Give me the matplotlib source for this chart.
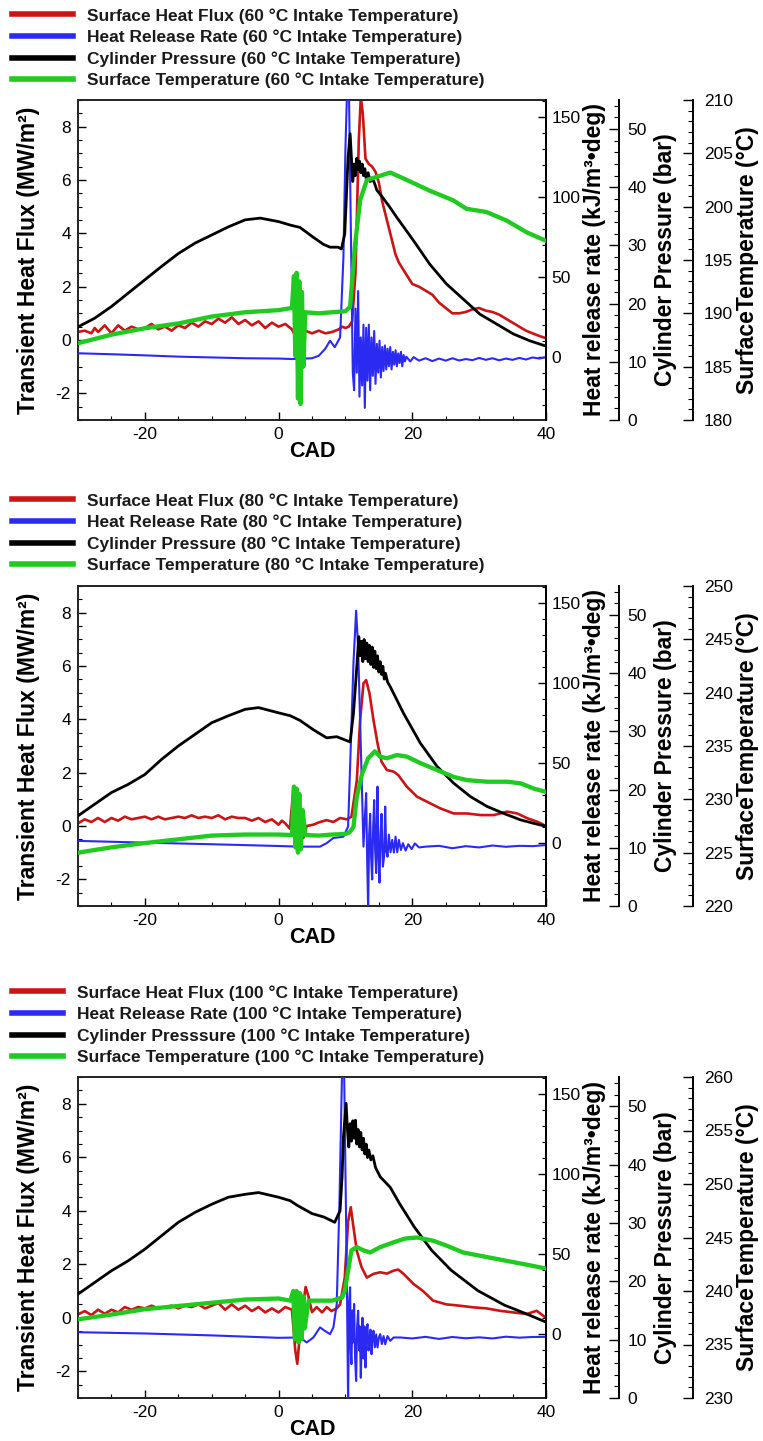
import matplotlib
matplotlib.use("Agg")
import matplotlib.pyplot as plt
from matplotlib.ticker import MultipleLocator, FixedLocator

plt.rcParams['font.family'] = ['Liberation Sans', 'DejaVu Sans']
plt.rcParams['axes.unicode_minus'] = False

# ---------------- Panel 1 : 60 C intake ----------------
p1_hf_cad = [-30, -29, -28, -27.5, -27, -26, -25, -24, -23, -22, -21, -20, -19, -18, -17, -16, -15, -14, -13, -12,
             -11, -10, -9, -8, -7, -6, -5, -4, -3, -2, -1, 0, 1, 2, 2.6, 3.0, 3.5, 4, 5, 6, 7, 8, 9,
             9.5, 10, 10.5, 11, 11.5, 12, 12.3, 12.6, 13, 13.5, 14, 14.5, 15, 15.5, 16, 16.5, 17, 17.5, 18,
             19, 20, 21, 22, 23, 24, 25, 26, 27, 28, 29, 30, 31, 32, 33, 34, 35, 36, 37, 38, 39, 40]
p1_hf = [0.3, 0.35, 0.25, 0.45, 0.3, 0.55, 0.25, 0.55, 0.35, 0.5, 0.4, 0.45, 0.6, 0.4, 0.5, 0.35, 0.55, 0.45, 0.65, 0.5,
         0.7, 0.6, 0.8, 0.65, 0.85, 0.6, 0.75, 0.55, 0.7, 0.45, 0.65, 0.5, 0.6, 0.4, 0.1, -0.2, 0.3, 0.35, 0.25, 0.35, 0.25, 0.3, 0.4,
         0.5, 0.45, 0.5, 0.7, 2.5, 7.5, 9.1, 8.5, 6.8, 6.6, 6.5, 6.3, 5.9, 5.2, 4.7, 4.2, 3.7, 3.2, 2.9,
         2.5, 2.1, 2.0, 1.85, 1.7, 1.4, 1.2, 1.0, 1.0, 1.05, 1.15, 1.2, 1.1, 1.05, 0.95, 0.8, 0.65, 0.5, 0.35, 0.25, 0.15, 0.07]

p1_hrr_cad = [-30, -25, -20, -15, -10, -5, 0, 2, 4, 5, 6, 7, 7.7, 8.4, 9.2, 9.7, 10.0, 10.3, 10.5, 10.8, 11.1,
              11.3, 11.5, 11.7, 11.9, 12.1, 12.3, 12.5, 12.7, 12.9, 13.1, 13.3, 13.5, 13.7, 13.9, 14.1, 14.3,
              14.5, 14.7, 14.9, 15.1, 15.3, 15.5, 15.7, 15.9, 16.1, 16.3, 16.5, 16.7, 16.9, 17.1, 17.3, 17.5,
              17.7, 17.9, 18.1, 18.3, 18.5, 18.7, 18.9, 19.1,
              19.7, 20.2, 21, 22, 23, 24, 25, 26, 27, 28, 29, 30, 31, 32, 33, 34, 35, 36, 37, 38, 39, 40]
p1_hrr = [2.1, 1.5, 0.8, 0, -0.5, -1.0, -1.2, -1.5, -1.2, -1.0, 0.5, 5, 10, 5.9, 12, 62, 130, 175, 175, 83, -10,
          -21, 30, -10, 41, -25, 12, -18, 20, -32, 18, -15, 20, -21, 12, -12, 16,
          -17, 8, -10, 10, -13, 6, -9, 7, -8, 5, -6, 6, -8, 3, -5, 4,
          -6, 2, -4, 3, -6, 1, -3, 0,
          -3, -0.3, -2.5, -1, -2.8, -1.2, -2.5, -1, -2.4, -1.5, -2.2, -0.8, -2, -1, -2.3, -1.2, -2, -0.8, -1.8, -0.5, -1.2, -0.3]

p1_p_cad = [-30, -27.5, -25, -22.5, -20, -17.5, -15, -12.5, -10, -7.5, -5, -2.75, 0, 1.75, 3.2, 5.2, 6.7, 7.7,
            8.9, 9.4, 9.9, 10.4, 10.7, 10.9, 11.1, 11.3, 11.5, 11.7, 11.9, 12.1, 12.3, 12.5, 12.7, 12.9, 13.1,
            13.4, 13.7, 14.2, 14.7, 15.2, 16.5, 17.7, 20.2, 22.6, 25.1, 27.6, 30.1, 32.6, 35.1, 37.6, 40]
p1_p = [16.0, 17.5, 19.5, 21.8, 24.1, 26.4, 28.6, 30.4, 31.8, 33.2, 34.4, 34.7, 34.1, 33.5, 33.1, 31.4, 30.2, 29.7,
        29.7, 29.4, 32.0, 45.2, 49.2, 45, 41, 44, 42, 45, 43, 44.5, 42.5, 44, 42, 43.2, 41.5,
        42.5, 41, 41.2, 39.5, 38.8, 36.8, 34.8, 30.8, 26.8, 23.4, 20.8, 18.2, 16.5, 14.8, 13.6, 12.7]

p1_t_cad = [-30, -25, -20, -15, -10, -5, 0, 2, 2.3, 2.5, 2.7, 2.9, 3.1, 3.3, 3.5, 3.7, 4, 6, 8, 10,
            10.7, 11.4, 12.2, 13.2, 15.2, 16.7, 19.2, 22.6, 26.1, 28.1, 31.1, 34.1, 37.1, 40]
p1_t = [187.2, 188.0, 188.6, 189.05, 189.7, 190.1, 190.3, 190.5, 193.5, 186, 193.8, 182, 193, 181.5, 192, 185,
        190.1, 190.0, 190.1, 190.2,
        190.6, 196.2, 200.6, 202.5, 202.9, 203.2, 202.5, 201.5, 200.6, 199.8, 199.5, 198.7, 197.6, 196.8]

# ---------------- Panel 2 : 80 C intake ----------------
p2_hf_cad = [-30, -29, -28, -27, -26, -25, -24, -23, -22, -21, -20, -19, -18, -17, -16, -15, -14, -13, -12, -11,
             -10, -9, -8, -7, -6, -5, -4, -3, -2, -1, 0, 0.5, 1, 1.7, 2.2, 2.5, 3.0, 3.7, 4.2,
             5.2, 6.2, 7.2, 8.2, 9.2, 10.2, 10.9, 11.7, 12.2, 12.7, 13.1, 13.6, 14.2, 14.8, 15.4, 16.2, 17.2, 17.9,
             19.2, 20.7, 22.2, 24.2, 26.2, 28.2, 30.2, 32.2, 34.2, 35.7, 37.2, 38.7, 40]
p2_hf = [0.1, 0.25, 0.15, 0.3, 0.15, 0.3, 0.2, 0.35, 0.25, 0.3, 0.35, 0.25, 0.35, 0.25, 0.3, 0.35, 0.3, 0.4, 0.3, 0.35,
         0.3, 0.4, 0.25, 0.35, 0.3, 0.3, 0.2, 0.3, 0.15, 0.25, 0.05, 0.2, 0.1, -0.1, 1.35, 0.97, 0.3, -0.45, 0.0,
         0.05, 0.15, 0.22, 0.15, 0.3, 0.25, 0.35, 1.7, 3.97, 5.35, 5.47, 4.97, 3.97, 3.1, 2.41, 2.1, 2.04, 1.91,
         1.47, 1.1, 0.91, 0.66, 0.47, 0.47, 0.41, 0.41, 0.54, 0.47, 0.29, 0.16, 0.0]

p2_hrr_cad = [-30, -20, -10, 0, 3, 6.2, 7.2, 8.2, 9.7, 10.4, 10.8, 11.2, 11.6, 11.9, 12.3, 12.7, 12.9, 13.1,
              13.25, 13.4, 13.55, 13.7, 13.85, 14.0, 14.15, 14.3, 14.45, 14.6, 14.7, 14.8, 14.95, 15.1, 15.25,
              15.4, 15.6, 15.8, 15.95, 16.1, 16.3, 16.5, 16.75, 17.0, 17.25, 17.5, 17.75, 18.0, 18.3, 18.6,
              19.0, 19.4, 19.9, 20.4, 21, 22, 24, 26, 28, 30, 32, 34, 36, 38, 40]
p2_hrr = [1.1, 0, -1.0, -2.1, -2.5, -2.5, -0.3, 2.9, 3.7, 10, 60, 112, 145, 122, 60, -2.5, 15, 31,
          -10, -42, 5, 18, -10, -23, 10, 26.6, -5, -19, 15, 35, -10, -25, 5,
          18, -15, -8, 22.5, -5, -8.8, 5, -6, 1.7, -6.2, 3.7, -6, 1.7, -4.6, -0.3,
          -5, -1, -4, -0.5, -3, -2.5, -2.0, -3.5, -2.2, -3.0, -1.8, -2.6, -2.0, -2.2, -1.5]

p2_p_cad = [-30, -27.5, -25, -22.5, -20, -17.5, -15, -12.5, -10, -7.5, -5, -3, 0, 1.75, 3.2, 5.2, 7.2, 8.7, 10.7,
            11.2, 11.7, 12.0, 12.2, 12.4, 12.6, 12.8, 13.0, 13.2, 13.4, 13.6, 13.8, 14.0, 14.2, 14.4, 14.6,
            14.8, 15.0, 15.2, 15.4, 15.6, 15.8, 16.0, 16.3, 16.7,
            18.7, 21.2, 23.7, 26.2, 28.7, 31.2, 33.7, 36.2, 38.2, 40]
p2_p = [15.5, 17.5, 19.5, 20.9, 22.6, 25.2, 27.5, 29.5, 31.5, 32.7, 33.8, 34.1, 33.2, 32.7, 31.9, 30.3, 28.9, 29.1, 28.2,
        33.1, 41.1, 46.3, 43, 45.5, 42, 45.8, 42.5, 45.2, 42, 44.8, 41.5, 44.5, 41, 43.8, 40.8,
        43, 40.2, 42, 39.8, 41.2, 39, 40, 38.5, 37.7,
        33.1, 28.0, 24.0, 21.1, 18.8, 17.1, 15.9, 14.8, 14.2, 13.7]

p2_t_cad = [-30, -25, -20, -15, -10, -5, 0, 2, 2.3, 2.5, 2.7, 2.9, 3.1, 3.3, 3.6, 4, 6, 8, 10, 10.6,
            11.2, 11.7, 12.5, 13.4, 14.4, 15.2, 16.2, 17.7, 19.2, 21.2, 23.7, 26.2, 28.2, 31.2, 34.2, 36.2, 38.2, 40]
p2_t = [225.0, 225.5, 225.9, 226.25, 226.6, 226.7, 226.7, 226.65, 231.2, 225.5, 231, 225.0, 230.5, 225.3, 229,
        226.65, 226.6, 226.7, 226.75, 226.9,
        227.4, 230.25, 232.4, 233.85, 234.5, 234.0, 233.85, 234.15, 234.0, 233.4, 232.75, 232.1, 231.8, 231.65,
        231.65, 231.5, 231.0, 230.7]

# ---------------- Panel 3 : 100 C intake ----------------
p3_hf_cad = [-30, -29, -28, -27, -26, -25, -24, -23, -22, -21, -20, -19, -18, -17, -16, -15, -14, -13, -12, -11,
             -10, -9, -8, -7, -6, -5, -4, -3, -2, -1, 0,
             1, 2, 2.5, 2.8, 3.2, 3.55, 4.05, 4.5, 5, 5.7, 6.5, 7.2, 7.9, 8.7,
             9.2, 9.9, 10.4, 10.8, 11.2, 11.7, 12.4, 13.2, 14.2, 15.2, 16.2, 17.2, 17.9, 18.7,
             20.2, 21.6, 23.1, 25.1, 27.1, 29.1, 31.1, 33.1, 35.1, 37.1, 38.6, 40]
p3_hf = [0.125, 0.25, 0.1, 0.3, 0.15, 0.3, 0.2, 0.4, 0.3, 0.4, 0.35, 0.45, 0.35, 0.4, 0.45, 0.35, 0.45, 0.4, 0.5, 0.35,
         0.45, 0.55, 0.3, 0.5, 0.3, 0.45, 0.25, 0.4, 0.2, 0.35, 0.2,
         0.4, 0.3, -1.22, -1.72, -0.6, 0.27, 1.15, 0.77, 0.21, 0.4, 0.2, 0.4, 0.25, 0.35,
         0.5, 1.5, 3.6, 4.13, 3.39, 2.5, 1.9, 1.5, 1.64, 1.7, 1.65, 1.76, 1.8, 1.64,
         1.26, 1.0, 0.64, 0.5, 0.45, 0.39, 0.35, 0.26, 0.2, 0.14, 0.26, 0.0]

p3_hrr_cad = [-30, -20, -10, 0, 3.2, 4.2, 5.2, 6.2, 6.9, 7.7, 8.2, 8.7, 9.1, 9.5, 9.8, 10.2, 10.4,
              10.55, 10.7, 10.8, 10.9, 11.05, 11.15, 11.3, 11.45, 11.6, 11.75, 11.9, 12.05, 12.15, 12.3, 12.45,
              12.55, 12.7, 12.85, 13.0, 13.15, 13.3, 13.45, 13.6, 13.75, 13.9, 14.05, 14.2, 14.4, 14.6, 14.8,
              15.0, 15.2, 15.45, 15.7, 15.95, 16.3, 16.7, 17.2,
              18.2, 20, 22, 24, 26, 28, 30, 32, 34, 36, 38, 40]
p3_hrr = [1.4, 0.6, -0.6, -2.1, -1.9, -5, -1.9, 4.4, 2.3, 0.2, 4.4, 19, 81.5, 165, 165, 39.8, -42,
          20, 29.4, -10, -18.5, 15, -5, 19, -15, -29, 5, 14.8, -10, 5, -27, 0,
          10.4, -15, 5, -20.6, 2, 6.4, -10, -4, 3, -12.3, -2, 2.3, -8, 0, -8.1,
          -2, 0.2, -6, -1, -6.1, -1, -4, -1.9,
          -1.9, -2.5, -1.5, -2.8, -1.6, -2.4, -1.8, -2.5, -1.4, -2.0, -1.6, -1.5]

p3_p_cad = [-30, -27.5, -25, -22.5, -20, -17.5, -15, -12.5, -10, -7.5, -5, -3, 0, 1.75, 2.8, 5, 6.8, 8.4, 9.2,
            9.5, 9.7, 10.1, 10.3, 10.5, 10.7, 10.9, 11.1, 11.3, 11.5, 11.7, 11.9, 12.1, 12.3, 12.5, 12.7, 12.9,
            13.1, 13.3, 13.5, 13.8, 14.1, 14.5,
            15.2, 16.7, 18.1, 20.3, 22.9, 25.8, 29.8, 33.8, 37.1, 40]
p3_p = [17.8, 19.8, 21.8, 23.5, 25.5, 27.8, 30.1, 31.8, 33.2, 34.4, 34.9, 35.2, 34.4, 33.8, 33.0, 31.6, 31.0, 30.1, 32.1,
        38, 44.7, 50.5, 46, 43, 47, 44, 47.5, 44.5, 47.6, 43.5, 46, 43, 45.5, 42.5, 44.5, 41.8,
        43.5, 41.2, 42.5, 40.8, 41.5, 39.5,
        37.9, 36.1, 33.3, 29.3, 25.3, 21.9, 18.4, 15.9, 14.4, 13.0]

p3_t_cad = [-30, -25, -20, -15, -10, -5, 0, 1.75, 2.2, 2.45, 2.7, 2.95, 3.2, 3.45, 3.7, 3.9,
            4.5, 6, 8, 9.5, 9.9, 10.4, 10.9,
            11.7, 12.7, 13.7, 15.2, 17.2, 18.9, 20.7, 23.1, 25.1, 27.6, 30.1, 32.6, 35.1, 37.6, 40]
p3_t = [237.35, 237.8, 238.3, 238.6, 238.9, 239.2, 239.3, 239.1, 240, 235.5, 240, 235.2, 239.8, 235.5, 239.5, 236.5,
        239.1, 239.1, 239.1, 239.4, 240, 241.9, 243.8,
        244.1, 243.8, 243.6, 244.1, 244.55, 244.9, 245.0, 244.7, 244.25, 243.6, 243.3, 243.0, 242.7, 242.4, 242.1]

intake_temps = ['60', '80', '100']
temp_limits = [(180, 210), (220, 250), (230, 260)]
pressure_names = ['Cylinder Pressure', 'Cylinder Pressure', 'Cylinder Presssure']

x_ticks = [-20, 0, 20, 40]
hf_ticks = [-2, 0, 2, 4, 6, 8]
hrr_ticks = [0, 50, 100, 150]
p_ticks = [0, 10, 20, 30, 40, 50]

W, H = 763, 1441
fig = plt.figure(figsize=(W / 100, H / 100), dpi=100)

# pixel layout: (axes top, axes bottom, legend top, handle start px, handle end px)
layout = [(100, 420, 8, 12, 73), (586, 906, 493, 12, 73), (1077, 1398, 985, 12, 63)]

series = [
    ((p1_hf_cad, p1_hf), (p1_hrr_cad, p1_hrr), (p1_p_cad, p1_p), (p1_t_cad, p1_t)),
    ((p2_hf_cad, p2_hf), (p2_hrr_cad, p2_hrr), (p2_p_cad, p2_p), (p2_t_cad, p2_t)),
    ((p3_hf_cad, p3_hf), (p3_hrr_cad, p3_hrr), (p3_p_cad, p3_p), (p3_t_cad, p3_t)),
]

RED, BLUE, BLACK, GREEN = '#cc1414', '#2a2af2', '#000000', '#1ecb1e'
left_px, right_px = 78, 546
tick_fs = 12.5
lab_fs = 16.5

def style_ticks(a, side, major=6, minor=3):
    a.tick_params(axis='y', which='major', direction='in', length=major, width=1.0,
                  labelsize=tick_fs, pad=5, left=(side == 'left'), right=(side == 'right'),
                  labelleft=(side == 'left'), labelright=(side == 'right'))
    a.tick_params(axis='y', which='minor', direction='in', length=minor, width=0.8,
                  left=(side == 'left'), right=(side == 'right'))

for i in range(3):
    top, bot, leg_top, hx0, hx1 = layout[i]
    (hc, hv), (rc, rv), (pc, pv), (tc, tv) = series[i]
    rect = [left_px / W, 1 - bot / H, (right_px - left_px) / W, (bot - top) / H]
    ax = fig.add_axes(rect)
    ax2 = ax.twinx()
    ax3 = ax.twinx()
    ax4 = ax.twinx()

    l1, = ax.plot(hc, hv, color=RED, lw=1.9)
    l2, = ax2.plot(rc, rv, color=BLUE, lw=1.5)
    l3, = ax3.plot(pc, pv, color=BLACK, lw=2.0)
    l4, = ax4.plot(tc, tv, color=GREEN, lw=3.1)

    ax.set_xlim(-30, 40)
    ax.set_ylim(-3, 9)
    ax.xaxis.set_major_locator(FixedLocator(x_ticks))
    ax.xaxis.set_minor_locator(MultipleLocator(5))
    ax.yaxis.set_major_locator(FixedLocator(hf_ticks))
    ax.yaxis.set_minor_locator(MultipleLocator(0.5))
    ax.tick_params(axis='x', which='major', direction='in', length=6, width=1.0, labelsize=tick_fs,
                   top=False, pad=5)
    ax.tick_params(axis='x', which='minor', direction='in', length=3, width=0.8, top=False)
    style_ticks(ax, 'left')
    for s in ax.spines.values():
        s.set_linewidth(1.4)
        s.set_color('#222222')

    ax2.set_ylim(-39.6, 160.4)
    ax2.yaxis.set_major_locator(FixedLocator(hrr_ticks))
    ax2.yaxis.set_minor_locator(MultipleLocator(10))
    style_ticks(ax2, 'right')
    ax2.tick_params(axis='y', pad=4)
    for s in ['left', 'top', 'bottom']:
        ax2.spines[s].set_visible(False)
    ax2.spines['right'].set_linewidth(1.4)

    ax3.set_ylim(0, 55)
    ax3.yaxis.set_major_locator(FixedLocator(p_ticks))
    ax3.yaxis.set_minor_locator(MultipleLocator(2))
    style_ticks(ax3, 'right', major=7, minor=3.5)
    ax3.tick_params(axis='y', pad=6)
    for s in ['left', 'top', 'bottom']:
        ax3.spines[s].set_visible(False)
    ax3.spines['right'].set_position(('axes', (619 - left_px) / (right_px - left_px)))
    ax3.spines['right'].set_linewidth(1.4)

    t0, t1 = temp_limits[i]
    ax4.set_ylim(t0, t1)
    ax4.yaxis.set_major_locator(MultipleLocator(5))
    ax4.yaxis.set_minor_locator(MultipleLocator(1))
    style_ticks(ax4, 'right', major=7, minor=3.5)
    ax4.tick_params(axis='y', pad=8)
    for s in ['left', 'top', 'bottom']:
        ax4.spines[s].set_visible(False)
    ax4.spines['right'].set_position(('axes', (693 - left_px) / (right_px - left_px)))
    ax4.spines['right'].set_linewidth(1.4)

    wpx = right_px - left_px
    hpx = bot - top
    ax.set_xlabel('CAD', fontsize=15.5, fontweight='bold')
    ax.xaxis.set_label_coords(0.5, -(441 - 420) / hpx)
    ax.set_ylabel('Transient Heat Flux (MW/m²)', fontsize=lab_fs, fontweight='bold')
    ax.yaxis.set_label_coords((40 - left_px) / wpx, 0.5)
    ax2.set_ylabel('Heat release rate (kJ/m³•deg)', fontsize=lab_fs, fontweight='bold')
    ax2.yaxis.set_label_coords((583 - left_px) / wpx, 0.5)
    ax3.set_ylabel('Cylinder Pressure (bar)', fontsize=lab_fs, fontweight='bold')
    ax3.yaxis.set_label_coords((654 - left_px) / wpx, 0.5)
    ax4.set_ylabel('SurfaceTemperature (°C)', fontsize=lab_fs, fontweight='bold')
    ax4.yaxis.set_label_coords((736 - left_px) / wpx, 0.5)

    tt = intake_temps[i]
    labels = [f'Surface Heat Flux ({tt} °C Intake Temperature)',
              f'Heat Release Rate ({tt} °C Intake Temperature)',
              f'{pressure_names[i]} ({tt} °C Intake Temperature)',
              f'Surface Temperature ({tt} °C Intake Temperature)']
    fs = 12.5
    fpx = fs * 100 / 72
    leg = ax4.legend([l1, l2, l3, l4], labels, loc='upper left',
                     bbox_to_anchor=(hx0 / W, 1 - leg_top / H), bbox_transform=fig.transFigure,
                     frameon=False, borderpad=0, borderaxespad=0,
                     handlelength=(hx1 - hx0) / fpx, handletextpad=0.8, labelspacing=0.35,
                     prop=dict(family=['Liberation Sans Narrow', 'Liberation Sans'], weight='bold', size=fs))
    for ln in leg.get_lines():
        ln.set_linewidth(4)
    for t in leg.get_texts():
        t.set_color('#1a1a1a')

fig.savefig('out.png', dpi=100)
